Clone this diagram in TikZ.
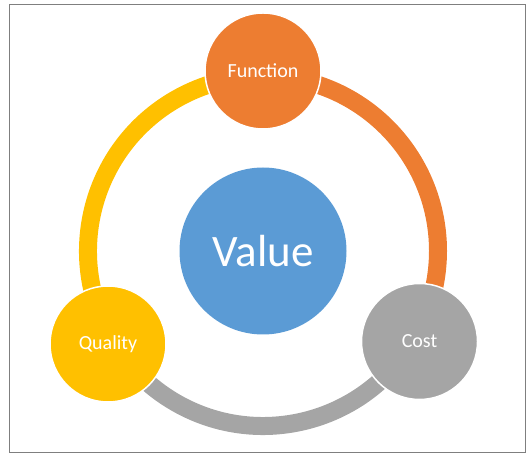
\documentclass[tikz,border=0pt]{standalone}
\usepackage{fontspec}
\setmainfont{Carlito}
\usetikzlibrary{backgrounds}
\definecolor{cfun}{HTML}{ED7D31}
\definecolor{cval}{HTML}{5B9BD5}
\definecolor{ccost}{HTML}{A5A5A5}
\definecolor{cqual}{HTML}{FFC000}
\definecolor{cframe}{HTML}{7F7F7F}

\begin{document}
\begin{tikzpicture}[x=1pt,y=1pt]
\tikzset{
  cyclenode/.style={circle,draw=white,line width=1.5pt,minimum size=116pt,inner sep=0pt,text=white,font=\fontsize{20}{24}\selectfont},
  hubnode/.style={circle,fill=cval,minimum size=167pt,inner sep=0pt,text=white,font=\fontsize{45}{54}\selectfont},
  ringarc/.style={line width=18pt,line cap=butt}
}
\useasboundingbox (0,0) rectangle (532,457);
\draw[cframe,line width=1pt] (9.5,4.5) rectangle (525.5,452.5);
\node[hubnode] (n_val) at (263,206) {Value};
\node[cyclenode,fill=cfun] (n_fun) at (263,386) {Function};
\node[cyclenode,fill=ccost] (n_cost) at (419.5,115.5) {Cost};
\node[cyclenode,fill=cqual] (n_qual) at (108,113) {Quality};
\begin{scope}[on background layer]
\draw[ringarc,cfun] ([shift={(90:175)}]n_val.center) arc[start angle=90,end angle=-30,radius=175];
\draw[ringarc,ccost] ([shift={(-30:175)}]n_val.center) arc[start angle=-30,end angle=-150,radius=175];
\draw[ringarc,cqual] ([shift={(210:175)}]n_val.center) arc[start angle=210,end angle=90,radius=175];
\end{scope}
\end{tikzpicture}
\end{document}
